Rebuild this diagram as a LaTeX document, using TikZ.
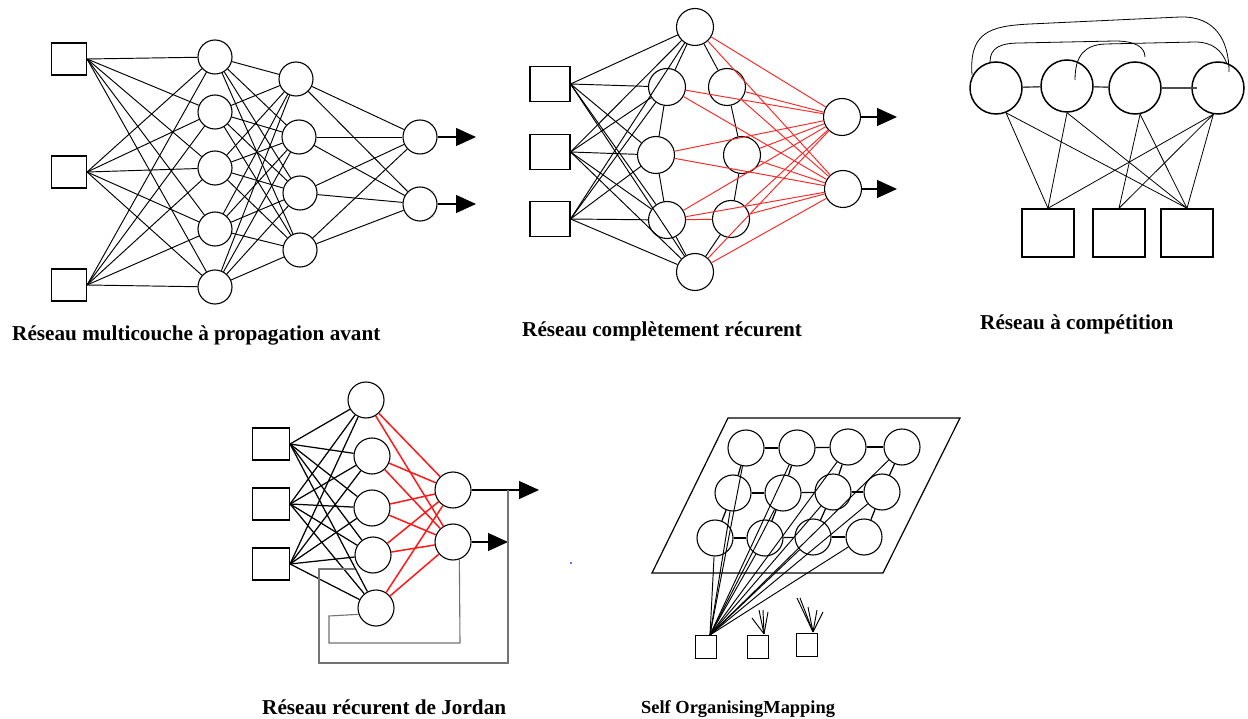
\documentclass[tikz,border=0pt]{standalone}
\usepackage{fontspec}
\setmainfont{Liberation Serif}
\usetikzlibrary{arrows.meta,calc}
\begin{document}
\begin{tikzpicture}[x=1pt,y=-1pt,
  box/.style={draw, inner sep=0pt, line width=1.1pt},
  nrn/.style={draw, circle, inner sep=0pt, minimum size=#1, line width=1.1pt},
  wire/.style={line width=0.95pt},
  thinwire/.style={line width=0.8pt},
  bwire/.style={line width=1.25pt},
  rwire/.style={line width=0.95pt, draw=red!85!white},
  rbwire/.style={line width=1.5pt, draw=red!90!white},
  loopwire/.style={line width=1.1pt, draw=black!55},
  outarrow/.style={line width=1.1pt, -{Triangle[length=20pt,width=18pt]}},
  caption/.style={font=\fontsize{21.2}{25}\selectfont\bfseries, inner sep=0pt, anchor=base west}
]
\useasboundingbox[fill=white] (0,0) rectangle (1248,719);

% ---------- multilayer feed-forward network ----------
\foreach \n/\y in {1/59,2/172,3/285}
  \node[box, minimum width=35pt, minimum height=32pt] (a-i\n) at (69,\y) {};
\foreach \n/\y in {1/57,2/112,3/168,4/229,5/287}
  \node[nrn=34pt] (a-h\n) at (215,\y) {};
\foreach \n/\x/\y in {1/296/79,2/299/137,3/300/193,4/300/250}
  \node[nrn=34pt] (a-k\n) at (\x,\y) {};
\node[nrn=34pt] (a-o1) at (420,137) {};
\node[nrn=34pt] (a-o2) at (420,204) {};
\foreach \i in {1,2,3}
  \foreach \j in {1,...,5}
    \draw[wire] (a-i\i.east) -- (a-h\j);
\foreach \i in {1,...,5}
  \foreach \j in {1,...,4}
    \draw[wire] (a-h\i) -- (a-k\j);
\foreach \i in {1,...,4}
  \foreach \j in {1,2}
    \draw[wire] (a-k\i) -- (a-o\j);
\coordinate (a-t1) at (476,137);
\coordinate (a-t2) at (476,204);
\draw[outarrow] (a-o1) -- (a-t1);
\draw[outarrow] (a-o2) -- (a-t2);
\node[caption] (cap-a) at (12,341) {Réseau multicouche à propagation avant};

% ---------- fully recurrent network ----------
\foreach \n/\y in {1/84,2/152,3/219}
  \node[box, minimum width=40pt, minimum height=35pt] (b-i\n) at (550,\y) {};
\foreach \n/\x/\y in {A/695/27,B/667/87,C/656/155,D/667/220,E/695/272,F/727/87,G/742/155,H/731/219}
  \node[nrn=37pt] (b-\n) at (\x,\y) {};
\node[nrn=37pt] (b-o1) at (842,117) {};
\node[nrn=37pt] (b-o2) at (843,189) {};
\foreach \i in {1,2,3}
  \foreach \j in {A,B,C,D,E}
    \draw[wire] (b-i\i.east) -- (b-\j);
\foreach \p/\q in {A/B,B/C,C/D,D/E,A/F,F/G,G/H,H/E}
  \draw[wire] (b-\p) -- (b-\q);
\draw[rwire] (b-D) -- (b-H);
\foreach \j in {A,B,C,D,E,F,G,H}
  \foreach \k in {1,2}
    \draw[rwire] (b-\j) -- (b-o\k);
\coordinate (b-t1) at (897,117);
\coordinate (b-t2) at (897,189);
\draw[outarrow] (b-o1) -- (b-t1);
\draw[outarrow] (b-o2) -- (b-t2);
\node[caption] (cap-b) at (522,337) {Réseau complètement récurent};

% ---------- competitive network ----------
\foreach \n/\x/\y in {1/996/88,2/1067/86,3/1135/88,4/1218/88}
  \node[nrn=52pt, line width=1.5pt] (c-\n) at (\x,\y) {};
\foreach \n/\x in {1/1048,2/1119,3/1187}
  \node[box, line width=1.5pt, minimum width=52pt, minimum height=48pt] (c-s\n) at (\x,233) {};
\draw[line width=1.4pt, black!70] (c-1) -- (c-2);
\draw[line width=1.4pt, black!70] (c-2) -- (c-3);
\draw[line width=1.4pt, black!70] (c-3.east) -- ($(c-4.west)+(6,0)$);
\draw[thinwire] (c-1.-68) -- (c-s1.north);
\draw[thinwire] (c-1.-68) -- (c-s3.north);
\draw[thinwire] (c-2.south) -- (c-s1.north);
\draw[thinwire] (c-2.south) -- (c-s3.north);
\draw[thinwire] (c-3.-79) -- (c-s2.north);
\draw[thinwire] (c-3.-79) -- (c-s3.north);
\draw[thinwire] (c-4.-100) -- (c-s1.north);
\draw[thinwire] (c-4.-100) -- (c-s2.north);
\draw[thinwire] (c-4.-100) -- (c-s3.north);
% lateral inhibition arcs
\draw[thinwire] ($(c-1)+(-24,-13)$) .. controls (969,32) and (990,26) .. (1030,24)
  -- (1180,17) .. controls (1215,16) and (1229,40) .. ($(c-4)+(11,-16)$);
\draw[thinwire] ($(c-1)+(-6,-26)$) .. controls (990,48) and (1000,43) .. (1020,43)
  -- (1115,41) .. controls (1135,41) and (1145,47) .. ($(c-3)+(10,-31)$);
\draw[thinwire] ($(c-2)+(8,-6)$) .. controls (1075,55) and (1085,45) .. (1105,44)
  -- (1195,42) .. controls (1212,42) and (1222,50) .. ($(c-4)+(9,-24)$);
\node[caption] (cap-c) at (980,330) {Réseau à compétition};

% ---------- Jordan recurrent network ----------
\foreach \n/\y in {1/444,2/504,3/564}
  \node[box, minimum width=37pt, minimum height=32pt] (d-i\n) at (271,\y) {};
\foreach \n/\x/\y in {1/366/400,2/372/456,3/372/508,4/373/555,5/376/608}
  \node[nrn=36pt] (d-h\n) at (\x,\y) {};
\node[nrn=36pt] (d-o1) at (453,490) {};
\node[nrn=36pt] (d-o2) at (453,542) {};
\foreach \i in {1,2,3}
  \foreach \j in {1,...,5}
    \draw[bwire] (d-i\i.east) -- (d-h\j);
\foreach \i in {1,...,5}
  \foreach \k in {1,2}
    \draw[rbwire] (d-h\i) -- (d-o\k);
\coordinate (d-t1) at (539,490);
\coordinate (d-t2) at (508,542);
\coordinate (d-tap) at (508,490);
\draw[outarrow] (d-o1) -- (d-t1);
\draw[outarrow] (d-o2) -- (d-t2);
% context feedback loops
\draw[loopwire] (d-tap) -- (508,663) -- (319,663) -- (319,569) -- ($(d-h4)+(-18,14)$);
\draw[loopwire] (d-o2.-70) -- (460,643) -- (329,643) -- (329,616) -- (d-h5.200);
\node[caption] (cap-d) at (262,714) {Réseau récurent de Jordan};

\fill[blue!75] (571,563) circle (1.2);

% ---------- self-organising map ----------
\draw[line width=1.2pt] (728,418) -- (960,418) -- (883,573) -- (652,573) -- cycle;
\foreach \n/\x/\y in {11/746/448,12/797/448,13/848/447,14/902/447,
                      21/733/493,22/783/493,23/833/492,24/882/492,
                      31/715/538,32/765/538,33/813/537,34/864/537}
  \node[nrn=36pt] (e-\n) at (\x,\y) {};
\foreach \r in {1,2,3}
  \foreach \a/\b in {1/2,2/3,3/4}
    \draw[bwire] (e-\r\a) -- (e-\r\b);
\foreach \c in {1,...,4} {
  \draw[bwire] (e-1\c) -- (e-2\c);
  \draw[bwire] (e-2\c) -- (e-3\c);
}
\node[box, minimum width=21pt, minimum height=23pt] (e-s1) at (706,647) {};
\node[box, minimum width=21pt, minimum height=23pt] (e-s2) at (758,647) {};
\node[box, minimum width=21pt, minimum height=23pt] (e-s3) at (807,645) {};
\foreach \n in {11,12,13,14,21,22,23,24,31,32,33,34}
  \draw[wire] ($(e-s1.north)+(4,0)$) -- (e-\n);
\foreach \x/\y in {752/618,759/610,763/610,768/612}
  \draw[wire] ($(e-s2.north)+(6,-1)$) -- (\x,\y);
\foreach \x/\y in {797/598,800/598,808/607,817/610,823/612}
  \draw[wire] ($(e-s3.north)+(6,-1)$) -- (\x,\y);
\node[caption, font=\fontsize{18.4}{22}\selectfont\bfseries] (cap-e) at (641,713) {Self OrganisingMapping};
\end{tikzpicture}
\end{document}
